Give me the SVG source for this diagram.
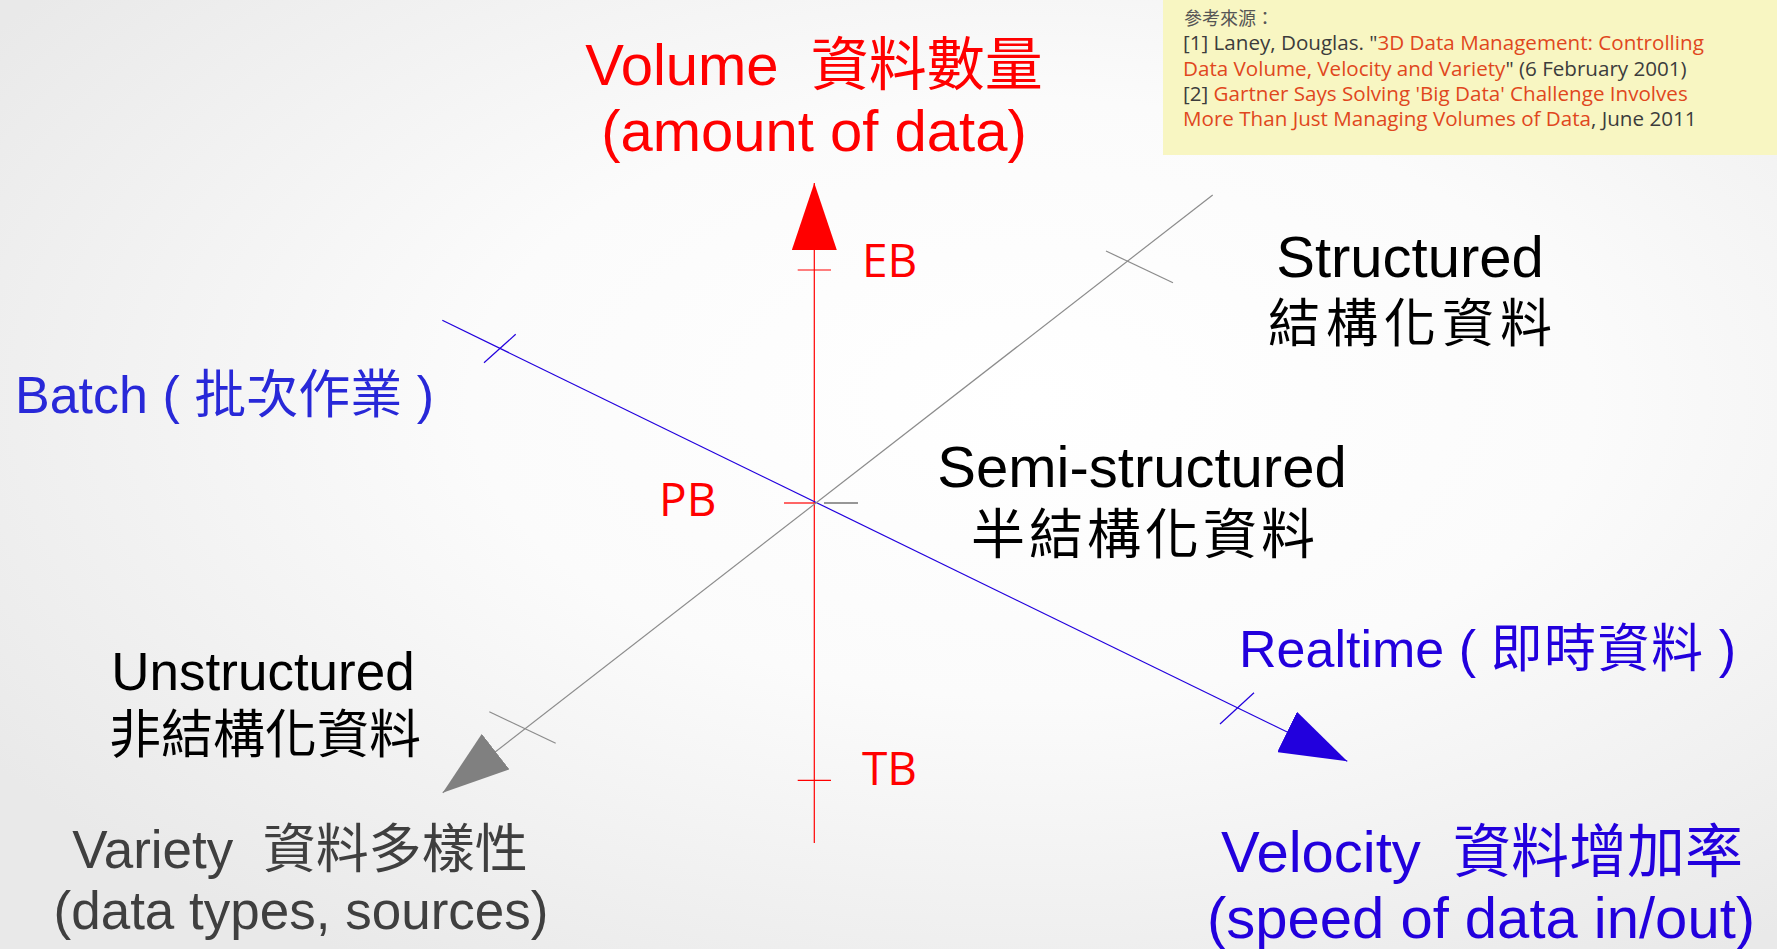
<svg xmlns="http://www.w3.org/2000/svg" width="1777" height="949" viewBox="0 0 1777 949">
<style>
.lat{font-family:'Liberation Sans','Noto Sans CJK TC',sans-serif}
.cjk{font-family:'Noto Sans CJK TC',sans-serif}
.os{font-family:'Open Sans','Noto Sans',sans-serif}
.red{fill:#ff0000}
.blue{fill:#2200dd}
.blk{fill:#000}
.gry{fill:#3f3f3f}
.ref{fill:#3c3c3c}
.link{fill:#e0471d}
.ax{fill:none;stroke-width:1.2}
</style>
<defs>
<radialGradient id="bg" cx="58%" cy="42%" r="70%">
<stop offset="0" stop-color="#ffffff"/>
<stop offset="0.45" stop-color="#fbfbfb"/>
<stop offset="1" stop-color="#e9e9e9"/>
</radialGradient>
<marker id="arR" viewBox="0 0 67 45" refX="67" refY="22.5" markerWidth="67" markerHeight="45" markerUnits="userSpaceOnUse" orient="auto"><path d="M0,0 L67,22.5 L0,45 z" fill="#ff0000"/></marker>
<marker id="arB" viewBox="0 0 67 45" refX="67" refY="22.5" markerWidth="67" markerHeight="45" markerUnits="userSpaceOnUse" orient="auto"><path d="M0,0 L67,22.5 L0,45 z" fill="#2200dd"/></marker>
<marker id="arG" viewBox="0 0 67 45" refX="67" refY="22.5" markerWidth="67" markerHeight="45" markerUnits="userSpaceOnUse" orient="auto"><path d="M0,0 L67,22.5 L0,45 z" fill="#808080"/></marker>
</defs>
<rect x="0" y="0" width="1777" height="949" fill="url(#bg)"/>

<g id="references">
<rect x="1163" y="0" width="614" height="155" fill="#f8f6c2"/>
<text class="cjk" x="1184" y="25" font-size="18" fill="#555">參考來源：</text>
<text class="os" x="1183" y="50" font-size="20.6"><tspan class="ref">[1] Laney, Douglas. "</tspan><tspan class="link">3D Data Management: Controlling</tspan></text>
<text class="os" x="1183" y="76" font-size="20.6"><tspan class="link">Data Volume, Velocity and Variety</tspan><tspan class="ref">" (6 February 2001)</tspan></text>
<text class="os" x="1183" y="101" font-size="20.6"><tspan class="ref">[2] </tspan><tspan class="link">Gartner Says Solving 'Big Data' Challenge Involves</tspan></text>
<text class="os" x="1183" y="126" font-size="20.6"><tspan class="link">More Than Just Managing Volumes of Data</tspan><tspan class="ref">, June 2011</tspan></text>
</g>

<g id="connectors">
<line class="ax" x1="814.3" y1="843" x2="814.3" y2="183" stroke="#ff0000" marker-end="url(#arR)"/>
<line class="ax" x1="442.3" y1="320.3" x2="1347.3" y2="761.3" stroke="#2200dd" marker-end="url(#arB)"/>
<line class="ax" x1="1212.7" y1="195" x2="442.7" y2="792.7" stroke="#8c8c8c" marker-end="url(#arG)"/>
<g class="ax" stroke="#ff0000">
<line x1="797.7" y1="270" x2="831" y2="270"/>
<line x1="797.7" y1="780.3" x2="831" y2="780.3"/>
<line x1="784" y1="503" x2="814" y2="503"/>
</g>
<line class="ax" x1="824" y1="503" x2="858" y2="503" stroke="#333"/>
<g class="ax" stroke="#8c8c8c">
<line x1="1106" y1="251" x2="1173" y2="282.7"/>
<line x1="489.3" y1="711.7" x2="555.7" y2="743.3"/>
</g>
<g class="ax" stroke="#2200dd">
<line x1="484" y1="362.7" x2="515.7" y2="334.3"/>
<line x1="1220" y1="724" x2="1254" y2="692.7"/>
</g>
</g>

<g id="label-volume" class="lat red" text-anchor="middle" font-size="58">
<text x="814" y="85" xml:space="preserve">Volume  資料數量</text>
<text x="814" y="151">(amount of data)</text>
</g>
<g id="label-eb" class="os red" font-size="46"><text x="862" y="277">EB</text></g>
<g id="label-pb" class="os red" font-size="46"><text x="659" y="516">PB</text></g>
<g id="label-tb" class="os red" font-size="46"><text x="862" y="785">TB</text></g>

<g id="label-structured" class="lat blk" text-anchor="middle">
<text x="1410" y="277" font-size="58">Structured</text>
<text x="1413" y="342" font-size="52" letter-spacing="6">結構化資料</text>
</g>
<g id="label-semi" class="lat blk" text-anchor="middle">
<text x="1142" y="487" font-size="58">Semi-structured</text>
<text x="1145" y="554" font-size="54" letter-spacing="4">半結構化資料</text>
</g>
<g id="label-unstructured" class="lat blk" text-anchor="middle">
<text x="263" y="690" font-size="53">Unstructured</text>
<text x="265" y="753" font-size="52">非結構化資料</text>
</g>
<g id="label-batch" class="lat" font-size="52" fill="#2828d8"><text x="15" y="413">Batch ( 批次作業 )</text></g>
<g id="label-realtime" class="lat blue" font-size="52"><text x="1239" y="667" xml:space="preserve">Realtime ( <tspan letter-spacing="1.5">即時資料</tspan> )</text></g>
<g id="label-variety" class="lat gry" text-anchor="middle" font-size="53">
<text x="300" y="868" xml:space="preserve">Variety  資料多樣性</text>
<text x="301" y="929">(data types, sources)</text>
</g>
<g id="label-velocity" class="lat blue" text-anchor="middle" font-size="58">
<text x="1482" y="872" xml:space="preserve">Velocity  資料增加率</text>
<text x="1481" y="938">(speed of data in/out)</text>
</g>
</svg>
